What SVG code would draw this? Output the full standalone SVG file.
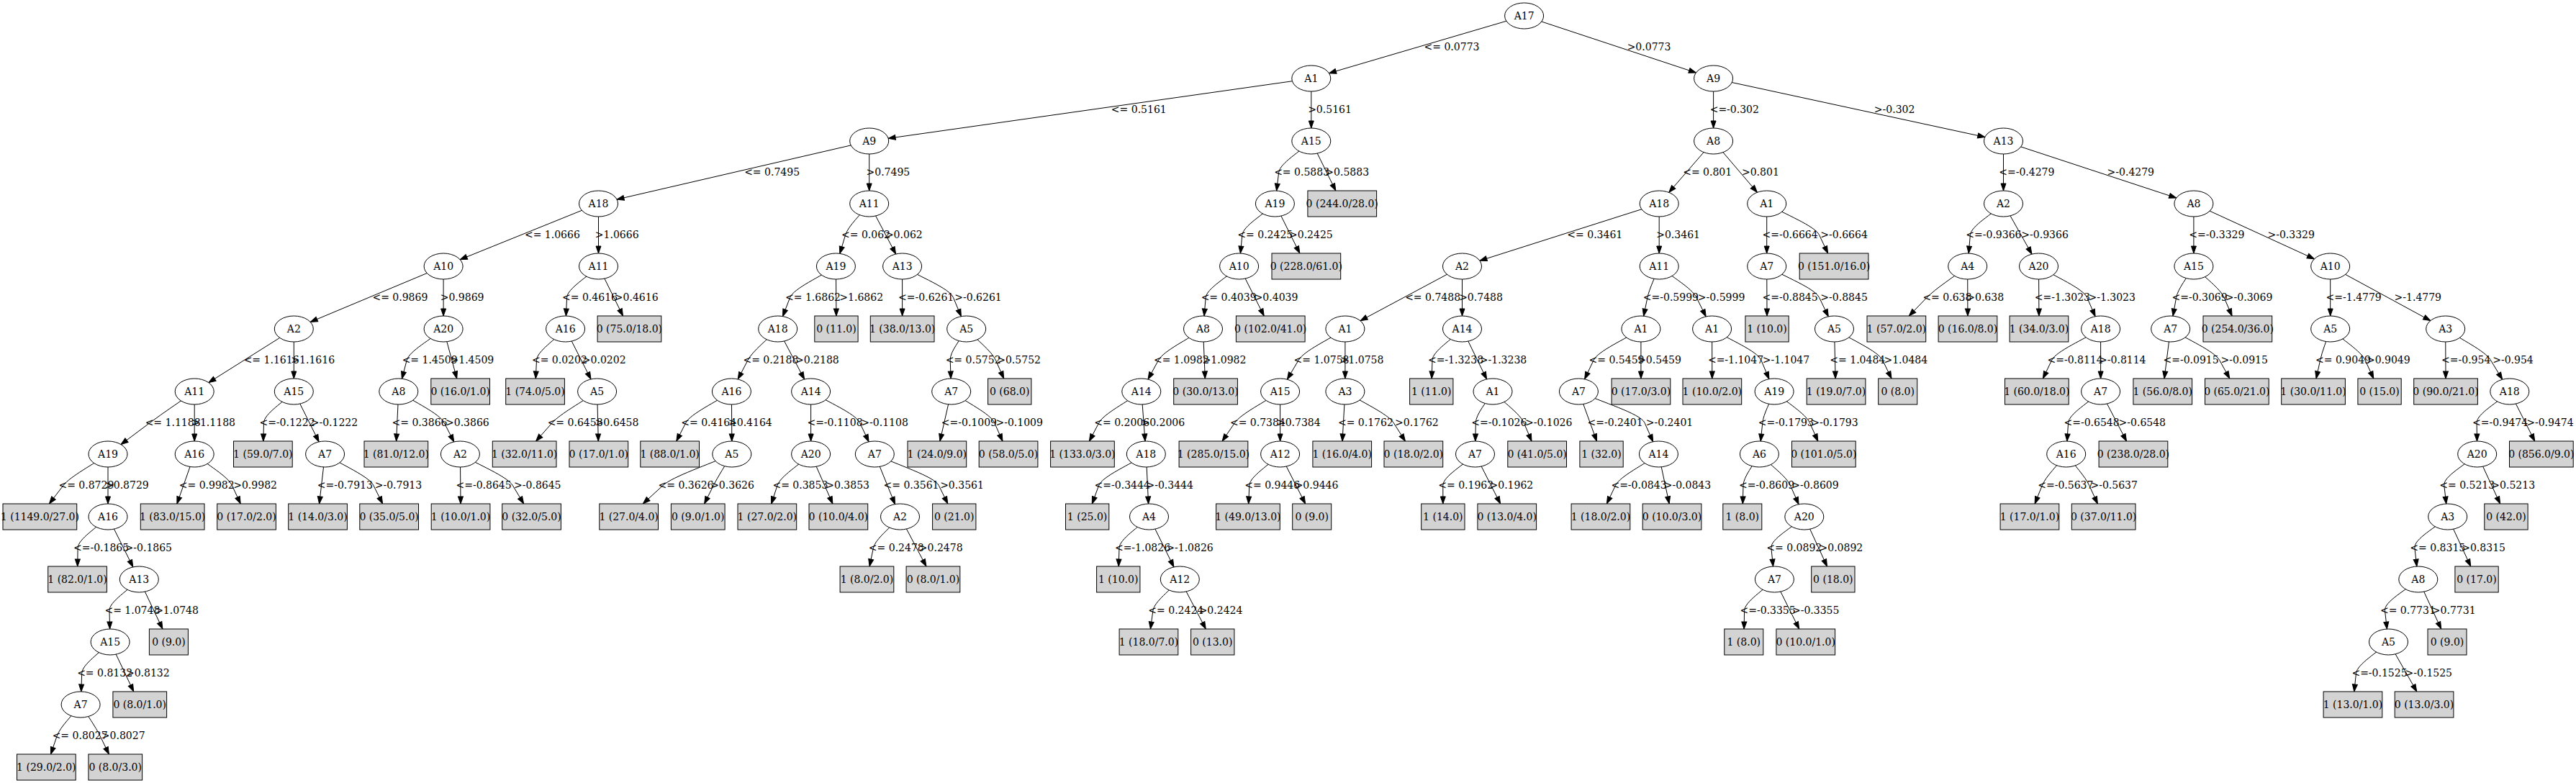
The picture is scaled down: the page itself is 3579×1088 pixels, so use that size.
<svg xmlns="http://www.w3.org/2000/svg" width="3579" height="1088" viewBox="0 0 3579 1088">
<defs>
<style>
text{font-family:"DejaVu Serif","Liberation Serif",serif;font-size:14px;text-anchor:middle;fill:#000}
.node ellipse{fill:#fff;stroke:#000;stroke-width:1}
.leaf rect{fill:#d3d3d3;stroke:#000;stroke-width:1}
.edges path{fill:none;stroke:#000;stroke-width:1;marker-end:url(#ah)}
</style>
<marker id="ah" markerUnits="userSpaceOnUse" markerWidth="10" markerHeight="7" refX="10" refY="3.5" orient="auto" overflow="visible"><path d="M0,0 L10,3.5 L0,7 Z" fill="#000" stroke="#000" stroke-width="1"/></marker>
</defs>
<rect x="0" y="0" width="3579" height="1088" fill="#fff"/>
<g id="connectors" class="edges">
<path d="M2117.6,22 L1846.5,101.7"/><text x="2017" y="70">&lt;= 0.0773</text>
<path d="M2117.6,22 L2356.4,101"/><text x="2291" y="70">&gt;0.0773</text>
<path d="M1821.8,109 L1234.1,192.3"/><text x="1582.3" y="157">&lt;= 0.5161</text>
<path d="M1821.8,109 L1821.8,178"/><text x="1847.5" y="157">&gt;0.5161</text>
<path d="M2380.6,109 L2380.6,178"/><text x="2409.8" y="157">&lt;=-0.302</text>
<path d="M2380.6,109 L2757.8,190.5"/><text x="2632.1" y="157">&gt;-0.302</text>
<path d="M1207.7,196 L857,277.1"/><text x="1072.6" y="244">&lt;= 0.7495</text>
<path d="M1207.7,196 L1207.7,265"/><text x="1233.9" y="244">&gt;0.7495</text>
<path d="M1821.8,196 C1806.8,210.5 1778.3,226.7 1776.7,239.5 L1773.6,265.1"/><text x="1808.6" y="244">&lt;= 0.5883</text>
<path d="M1821.8,196 L1855.8,265"/><text x="1871.7" y="244">&gt;0.5883</text>
<path d="M2380.6,196 L2318.7,267.4"/><text x="2372.2" y="244">&lt;= 0.801</text>
<path d="M2380.6,196 L2441.4,267.3"/><text x="2445.9" y="244">&gt;0.801</text>
<path d="M2783.5,196 L2783.5,265"/><text x="2815.8" y="244">&lt;=-0.4279</text>
<path d="M2783.5,196 L3023.7,275"/><text x="2960.3" y="244">&gt;-0.4279</text>
<path d="M831.5,283 L639.2,360.7"/><text x="767.4" y="331">&lt;= 1.0666</text>
<path d="M831.5,283 L831.5,352"/><text x="857.2" y="331">&gt;1.0666</text>
<path d="M1207.7,283 C1196.7,297.5 1178.5,313.6 1174.6,326.5 L1166.8,352.4"/><text x="1203" y="331">&lt;= 0.062</text>
<path d="M1207.7,283 L1244.6,353"/><text x="1255.8" y="331">&gt;0.062</text>
<path d="M1771.4,283 C1756.2,297.5 1727.2,313.8 1725.9,326.5 L1723.4,352"/><text x="1757.8" y="331">&lt;= 0.2425</text>
<path d="M1771.4,283 L1805.8,352"/><text x="1821.4" y="331">&gt;0.2425</text>
<path d="M2305.2,283 L2055.9,362.3"/><text x="2215.8" y="331">&lt;= 0.3461</text>
<path d="M2305.2,283 L2305.2,352"/><text x="2331.6" y="331">&gt;0.3461</text>
<path d="M2454.7,283 L2454.7,352"/><text x="2487.1" y="331">&lt;=-0.6664</text>
<path d="M2454.7,283 C2479,297.5 2521.6,313.8 2527.6,326.5 L2539.6,352"/><text x="2562.1" y="331">&gt;-0.6664</text>
<path d="M2783.5,283 C2768.1,297.5 2738.5,313.8 2737.4,326.5 L2735.2,352"/><text x="2769.9" y="331">&lt;=-0.9366</text>
<path d="M2783.5,283 L2823,353.2"/><text x="2841.1" y="331">&gt;-0.9366</text>
<path d="M3047.9,283 L3047.9,352"/><text x="3079.8" y="331">&lt;=-0.3329</text>
<path d="M3047.9,283 L3215.4,359.8"/><text x="3183.2" y="331">&gt;-0.3329</text>
<path d="M616.1,370 L431.2,447.4"/><text x="555.9" y="418">&lt;= 0.9869</text>
<path d="M616.1,370 L616.1,439"/><text x="642.1" y="418">&gt;0.9869</text>
<path d="M831.5,370 C816.9,384.5 788.2,400.8 787.6,413.5 L786.4,439"/><text x="819.5" y="418">&lt;= 0.4616</text>
<path d="M831.5,370 L865.5,439"/><text x="884.2" y="418">&gt;0.4616</text>
<path d="M1161.4,370 C1140.1,384.5 1102.7,400.5 1097.6,413.5 L1087.5,439.6"/><text x="1129.5" y="418">&lt;= 1.6862</text>
<path d="M1161.4,370 L1161.9,439"/><text x="1196.7" y="418">&gt;1.6862</text>
<path d="M1253.6,370 L1253.6,439"/><text x="1286.7" y="418">&lt;=-0.6261</text>
<path d="M1253.6,370 C1277.2,384.5 1319.1,400.4 1324.5,413.5 L1335.4,439.7"/><text x="1359" y="418">&gt;-0.6261</text>
<path d="M1721.6,370 C1706.1,384.5 1676.3,400.8 1675.2,413.5 L1673,439"/><text x="1707.1" y="418">&lt;= 0.4039</text>
<path d="M1721.6,370 L1756.2,439"/><text x="1773" y="418">&gt;0.4039</text>
<path d="M2031.5,370 L1890,445.7"/><text x="1990.6" y="418">&lt;= 0.7488</text>
<path d="M2031.5,370 L2031.5,439"/><text x="2057.5" y="418">&gt;0.7488</text>
<path d="M2305.2,370 C2299.8,384.5 2291.6,400.7 2288.9,413.5 L2283.6,439.2"/><text x="2321.4" y="418">&lt;=-0.5999</text>
<path d="M2305.2,370 C2322.5,384.5 2350.6,400.3 2357.1,413.5 L2370.2,439.9"/><text x="2391.6" y="418">&gt;-0.5999</text>
<path d="M2454.7,370 L2455,439"/><text x="2487.1" y="418">&lt;=-0.8845</text>
<path d="M2454.7,370 C2479,384.5 2521.3,400.3 2527.6,413.5 L2540.3,439.9"/><text x="2562.1" y="418">&gt;-0.8845</text>
<path d="M2733.7,370 C2714.8,384.5 2689.4,400.8 2677,413.5 L2652.3,439"/><text x="2705.4" y="418">&lt;= 0.638</text>
<path d="M2733.7,370 L2733.9,439"/><text x="2758.2" y="418">&gt;0.638</text>
<path d="M2832.5,370 L2832.9,439"/><text x="2865.4" y="418">&lt;=-1.3023</text>
<path d="M2832.5,370 C2854.9,384.5 2894,400.4 2899.7,413.5 L2911.1,439.7"/><text x="2934.2" y="418">&gt;-1.3023</text>
<path d="M3047.9,370 C3039.8,384.5 3025.9,400.7 3023.6,413.5 L3019,439.1"/><text x="3056.1" y="418">&lt;=-0.3069</text>
<path d="M3047.9,370 C3062,384.5 3084.6,400.8 3090.1,413.5 L3101.1,439"/><text x="3124.6" y="418">&gt;-0.3069</text>
<path d="M3237.7,370 L3237.7,439"/><text x="3270.2" y="418">&lt;=-1.4779</text>
<path d="M3237.7,370 L3376.8,445.6"/><text x="3359.3" y="418">&gt;-1.4779</text>
<path d="M408.3,457 L289.8,531.6"/><text x="377.1" y="505">&lt;= 1.1616</text>
<path d="M408.3,457 L408.3,526"/><text x="434.7" y="505">&gt;1.1616</text>
<path d="M616.1,457 C599.1,471.5 568.6,487.6 565.2,500.5 L558.4,526.3"/><text x="597.1" y="505">&lt;= 1.4509</text>
<path d="M616.1,457 L634.7,526"/><text x="655.9" y="505">&gt;1.4509</text>
<path d="M785.6,457 C772.2,471.5 746.1,487.8 745.5,500.5 L744.3,526"/><text x="777.4" y="505">&lt;= 0.0202</text>
<path d="M785.6,457 L821,526.9"/><text x="839.2" y="505">&gt;0.0202</text>
<path d="M1080.7,457 C1066.8,471.5 1045.9,487.3 1039,500.5 L1025.2,527"/><text x="1070.9" y="505">&lt;= 0.2188</text>
<path d="M1080.7,457 L1117.6,527"/><text x="1135.4" y="505">&gt;0.2188</text>
<path d="M1342.7,457 C1335.2,471.5 1319.8,487.8 1320.2,500.5 L1321.1,526"/><text x="1352.1" y="505">&lt;= 0.5752</text>
<path d="M1342.7,457 C1356.3,471.5 1377.8,487.8 1383.4,500.5 L1394.7,526"/><text x="1415.6" y="505">&gt;0.5752</text>
<path d="M1671.5,457 C1650.8,471.5 1616.8,487.2 1609.5,500.5 L1595,527.1"/><text x="1641.4" y="505">&lt;= 1.0982</text>
<path d="M1671.5,457 L1674.3,526"/><text x="1701" y="505">&gt;1.0982</text>
<path d="M1868.9,457 C1847.3,471.5 1811.9,487.1 1804.1,500.5 L1788.4,527.2"/><text x="1836" y="505">&lt;= 1.0758</text>
<path d="M1868.9,457 L1868.9,526"/><text x="1892" y="505">&gt;1.0758</text>
<path d="M2031.5,457 C2017.7,471.5 1990.4,487.8 1990,500.5 L1989.2,526"/><text x="2022.5" y="505">&lt;=-1.3238</text>
<path d="M2031.5,457 L2065.6,526.9"/><text x="2088.5" y="505">&gt;-1.3238</text>
<path d="M2279.9,457 C2258,471.5 2220.4,487.4 2214.1,500.5 L2201.6,526.8"/><text x="2246" y="505">&lt;= 0.5459</text>
<path d="M2279.9,457 L2279.9,526"/><text x="2305.5" y="505">&gt;0.5459</text>
<path d="M2378.6,457 L2378.8,526"/><text x="2411.5" y="505">&lt;=-1.1047</text>
<path d="M2378.6,457 C2401.4,471.5 2441.4,487.4 2446.9,500.5 L2457.9,526.7"/><text x="2481.4" y="505">&gt;-1.1047</text>
<path d="M2548.5,457 L2550.1,526"/><text x="2580.8" y="505">&lt;= 1.0484</text>
<path d="M2548.5,457 C2570.9,471.5 2609.4,487.8 2615.6,500.5 L2628,526"/><text x="2647.8" y="505">&gt;1.0484</text>
<path d="M2918.6,457 C2895.9,471.5 2856.7,487.8 2850.6,500.5 L2838.4,526"/><text x="2883.1" y="505">&lt;=-0.8114</text>
<path d="M2918.6,457 L2918.6,526"/><text x="2948.8" y="505">&gt;-0.8114</text>
<path d="M3015.7,457 L3007,526"/><text x="3044.1" y="505">&lt;=-0.0915</text>
<path d="M3015.7,457 C3038.4,471.5 3076.7,487.8 3083.7,500.5 L3097.8,526"/><text x="3118.2" y="505">&gt;-0.0915</text>
<path d="M3237.7,457 C3233,471.5 3226.4,487.8 3223.6,500.5 L3218,526"/><text x="3255.5" y="505">&lt;= 0.9049</text>
<path d="M3237.7,457 C3253.8,471.5 3280.3,487.8 3286.1,500.5 L3297.8,526"/><text x="3318.3" y="505">&gt;0.9049</text>
<path d="M3397.7,457 L3398,526"/><text x="3426.2" y="505">&lt;=-0.954</text>
<path d="M3397.7,457 C3418.6,471.5 3452.4,487.1 3460.5,500.5 L3476.7,527.3"/><text x="3491.5" y="505">&gt;-0.954</text>
<path d="M270.2,544 C249.5,558.5 228.3,572.5 208.2,587.5 L168,617.6"/><text x="240.1" y="592">&lt;= 1.1188</text>
<path d="M270.2,544 L270.2,613"/><text x="296.6" y="592">&gt;1.1188</text>
<path d="M408.3,544 C394.4,558.5 366.9,574.8 366.5,587.5 L365.8,613"/><text x="399" y="592">&lt;=-0.1222</text>
<path d="M408.3,544 L443.1,613.9"/><text x="464.4" y="592">&gt;-0.1222</text>
<path d="M553.8,544 L550.6,613"/><text x="583" y="592">&lt;= 0.3866</text>
<path d="M553.8,544 C574.9,558.5 610.5,574.3 617.2,587.5 L630.7,614"/><text x="649.4" y="592">&gt;0.3866</text>
<path d="M829.6,544 C808.8,558.5 778.5,574.8 767.2,587.5 L744.6,613"/><text x="799.1" y="592">&lt;= 0.6458</text>
<path d="M829.6,544 L831.3,613"/><text x="857" y="592">&gt;0.6458</text>
<path d="M1016.4,544 C995.2,558.5 959.3,574.8 952.8,587.5 L939.8,613"/><text x="984.7" y="592">&lt;= 0.4164</text>
<path d="M1016.4,544 L1016.8,613"/><text x="1042.4" y="592">&gt;0.4164</text>
<path d="M1126.6,544 L1126.6,613"/><text x="1160" y="592">&lt;=-0.1108</text>
<path d="M1126.6,544 C1149.3,558.5 1188.4,574.4 1194.6,587.5 L1207.1,613.8"/><text x="1229.1" y="592">&gt;-0.1108</text>
<path d="M1321.7,544 L1305.9,613"/><text x="1346.4" y="592">&lt;=-0.1009</text>
<path d="M1321.7,544 C1341.7,558.5 1376.1,574.8 1381.7,587.5 L1393,613"/><text x="1416.2" y="592">&gt;-0.1009</text>
<path d="M1585.8,544 C1566.1,558.5 1533.5,574.8 1526.8,587.5 L1513.4,613"/><text x="1558.7" y="592">&lt;= 0.2006</text>
<path d="M1585.8,544 L1591,613"/><text x="1615.8" y="592">&gt;0.2006</text>
<path d="M1778.6,544 C1757.6,558.5 1724.2,574.8 1715.5,587.5 L1698.1,613"/><text x="1747.4" y="592">&lt;= 0.7384</text>
<path d="M1778.6,544 L1778.6,613"/><text x="1804.3" y="592">&gt;0.7384</text>
<path d="M1868.9,544 L1865,613"/><text x="1897.4" y="592">&lt;= 0.1762</text>
<path d="M1868.9,544 C1891.3,558.5 1928.1,574.8 1936.2,587.5 L1952.4,613"/><text x="1968.4" y="592">&gt;0.1762</text>
<path d="M2074,544 C2066.1,558.5 2050.6,574.8 2050.3,587.5 L2049.8,613"/><text x="2082.8" y="592">&lt;=-0.1026</text>
<path d="M2074,544 C2088.4,558.5 2111.8,574.8 2117.2,587.5 L2128,613"/><text x="2151.7" y="592">&gt;-0.1026</text>
<path d="M2193.4,544 L2218.5,613"/><text x="2244.1" y="592">&lt;=-0.2401</text>
<path d="M2193.4,544 C2223.9,558.5 2279.2,574.4 2285,587.5 L2296.7,613.8"/><text x="2319.5" y="592">&gt;-0.2401</text>
<path d="M2465.1,544 C2459.7,558.5 2450.1,574.8 2448.8,587.5 L2446.2,613"/><text x="2481.3" y="592">&lt;=-0.1793</text>
<path d="M2465.1,544 C2481.5,558.5 2508.7,574.8 2514.4,587.5 L2525.8,613"/><text x="2548.9" y="592">&gt;-0.1793</text>
<path d="M2918.6,544 C2903.6,558.5 2874.5,574.8 2873.6,587.5 L2871.9,613"/><text x="2906.1" y="592">&lt;=-0.6548</text>
<path d="M2918.6,544 L2954.5,613"/><text x="2976.3" y="592">&gt;-0.6548</text>
<path d="M3486.8,544 C3471.6,558.5 3440.9,574.8 3441.1,587.5 L3441.5,613"/><text x="3473.6" y="592">&lt;=-0.9474</text>
<path d="M3486.8,544 L3521.7,613"/><text x="3542.9" y="592">&gt;-0.9474</text>
<path d="M150,631 C129.3,645.5 97.8,661.8 88,674.5 L68.4,700"/><text x="119.9" y="679">&lt;= 0.8729</text>
<path d="M150,631 L150,700"/><text x="176.4" y="679">&gt;0.8729</text>
<path d="M270.2,631 L245.9,700"/><text x="287.2" y="679">&lt;= 0.9982</text>
<path d="M270.2,631 C287.6,645.5 316.5,661.8 322.4,674.5 L334.2,700"/><text x="354.6" y="679">&gt;0.9982</text>
<path d="M451.6,631 L443.6,700"/><text x="479.3" y="679">&lt;=-0.7913</text>
<path d="M451.6,631 C474,645.5 512.6,661.8 518.9,674.5 L531.6,700"/><text x="553.4" y="679">&gt;-0.7913</text>
<path d="M639.4,631 L640,700"/><text x="672.1" y="679">&lt;=-0.8645</text>
<path d="M639.4,631 C663.7,645.5 704.6,661.8 712.3,674.5 L727.7,700"/><text x="746.8" y="679">&gt;-0.8645</text>
<path d="M1016.8,631 C984.9,645.5 935,661.8 921.1,674.5 L893.3,700"/><text x="953" y="679">&lt;= 0.3626</text>
<path d="M1016.8,631 C1008.3,645.5 997.7,661.8 991.3,674.5 L978.6,700"/><text x="1017.5" y="679">&gt;0.3626</text>
<path d="M1126.6,631 C1111.1,645.5 1084.2,661.8 1080,674.5 L1071.7,700"/><text x="1111.9" y="679">&lt;= 0.3853</text>
<path d="M1126.6,631 L1156.9,700"/><text x="1177.6" y="679">&gt;0.3853</text>
<path d="M1215.3,631 L1243.5,700.6"/><text x="1266" y="679">&lt;= 0.3561</text>
<path d="M1215.3,631 C1245,645.5 1298.1,661.8 1304.3,674.5 L1316.8,700"/><text x="1336.5" y="679">&gt;0.3561</text>
<path d="M1592.3,631 C1570.4,645.5 1531.4,661.8 1526.7,674.5 L1517.3,700"/><text x="1559.2" y="679">&lt;=-0.3444</text>
<path d="M1592.3,631 L1595.6,700"/><text x="1625.2" y="679">&gt;-0.3444</text>
<path d="M1778.6,631 C1764.3,645.5 1736.4,661.8 1735.8,674.5 L1734.7,700"/><text x="1767.7" y="679">&lt;= 0.9446</text>
<path d="M1778.6,631 L1813.6,700"/><text x="1829" y="679">&gt;0.9446</text>
<path d="M2049.5,631 C2034.6,645.5 2004.8,661.8 2004.8,674.5 L2004.8,700"/><text x="2036.7" y="679">&lt;= 0.1962</text>
<path d="M2049.5,631 L2084.6,700"/><text x="2099.9" y="679">&gt;0.1962</text>
<path d="M2304.4,631 C2284.4,645.5 2250.6,661.8 2244.5,674.5 L2232.4,700"/><text x="2277" y="679">&lt;=-0.0843</text>
<path d="M2304.4,631 L2319.2,700"/><text x="2344.4" y="679">&gt;-0.0843</text>
<path d="M2444.4,631 C2436.9,645.5 2422.4,661.8 2422,674.5 L2421.3,700"/><text x="2454.5" y="679">&lt;=-0.8609</text>
<path d="M2444.4,631 C2458.7,645.5 2481.6,661.4 2487.4,674.5 L2499.1,700.8"/><text x="2521.9" y="679">&gt;-0.8609</text>
<path d="M2870.7,631 C2859.6,645.5 2842.4,661.8 2837.3,674.5 L2827.1,700"/><text x="2869.8" y="679">&lt;=-0.5637</text>
<path d="M2870.7,631 C2881.4,645.5 2896.9,661.8 2902.7,674.5 L2914.4,700"/><text x="2937.2" y="679">&gt;-0.5637</text>
<path d="M3441.7,631 C3426.4,645.5 3394.4,661.7 3395.8,674.5 L3398.7,700.1"/><text x="3427.7" y="679">&lt;= 0.5213</text>
<path d="M3441.7,631 L3473.6,700"/><text x="3491.7" y="679">&gt;0.5213</text>
<path d="M150,718 C136,732.5 108.3,748.8 108.1,761.5 L107.7,787"/><text x="140.6" y="766">&lt;=-0.1865</text>
<path d="M150,718 L184.8,787.9"/><text x="206.3" y="766">&gt;-0.1865</text>
<path d="M1250.5,718 C1238.1,732.5 1216.1,748.8 1213.4,761.5 L1208.1,787"/><text x="1245.3" y="766">&lt;= 0.2478</text>
<path d="M1250.5,718 L1286.9,787"/><text x="1307.2" y="766">&gt;0.2478</text>
<path d="M1596.5,718 C1582.7,732.5 1555.4,748.8 1555,761.5 L1554.2,787"/><text x="1587.5" y="766">&lt;=-1.0826</text>
<path d="M1596.5,718 L1630.9,787.9"/><text x="1653" y="766">&gt;-1.0826</text>
<path d="M2506.8,718 C2491.5,732.5 2459.6,748.7 2460.9,761.5 L2463.5,787.1"/><text x="2492.8" y="766">&lt;= 0.0892</text>
<path d="M2506.8,718 L2538.5,787"/><text x="2557.9" y="766">&gt;0.0892</text>
<path d="M3400.7,718 C3385.4,732.5 3353.5,748.7 3354.9,761.5 L3357.8,787.1"/><text x="3386.8" y="766">&lt;= 0.8315</text>
<path d="M3400.7,718 L3432.7,787"/><text x="3450.6" y="766">&gt;0.8315</text>
<path d="M193.3,805 C179.5,819.5 151.7,835.8 152,848.5 L152.6,874"/><text x="183.9" y="853">&lt;= 1.0748</text>
<path d="M193.3,805 L225.9,874"/><text x="245.5" y="853">&gt;1.0748</text>
<path d="M1639.3,805 C1626.8,819.5 1603.7,835.8 1601.9,848.5 L1598.4,874"/><text x="1633.8" y="853">&lt;= 0.2424</text>
<path d="M1639.3,805 L1675.3,874"/><text x="1696" y="853">&gt;0.2424</text>
<path d="M2465.4,805 C2451.5,819.5 2423.9,835.8 2423.6,848.5 L2423.1,874"/><text x="2456.1" y="853">&lt;=-0.3355</text>
<path d="M2465.4,805 L2499.7,874"/><text x="2522.7" y="853">&gt;-0.3355</text>
<path d="M3359.8,805 C3344.4,819.5 3312.1,835.7 3313.5,848.5 L3316.4,874.1"/><text x="3345.4" y="853">&lt;= 0.7731</text>
<path d="M3359.8,805 L3391.7,874"/><text x="3409.2" y="853">&gt;0.7731</text>
<path d="M153.1,892 C140,906.5 114.2,922.8 113.7,935.5 L112.8,961"/><text x="145.6" y="940">&lt;= 0.8132</text>
<path d="M153.1,892 L185.7,961"/><text x="205.3" y="940">&gt;0.8132</text>
<path d="M3318.5,892 C3303.5,906.5 3274.9,922.8 3273.5,935.5 L3270.8,961"/><text x="3306" y="940">&lt;=-0.1525</text>
<path d="M3318.5,892 L3357.8,961"/><text x="3374.3" y="940">&gt;-0.1525</text>
<path d="M112.1,979 C101.1,993.5 83.6,1009.8 79.2,1022.5 L70.5,1048"/><text x="111.1" y="1027">&lt;= 0.8027</text>
<path d="M112.1,979 C121.1,993.5 132.8,1009.8 139,1022.5 L151.4,1048"/><text x="171.2" y="1027">&gt;0.8027</text>
</g>
<g id="nodes">
<g id="n0" class="node"><ellipse cx="2117.6" cy="22" rx="27" ry="18"/><text x="2117.6" y="26.5">A17</text></g>
<g id="n1" class="node"><ellipse cx="1821.8" cy="109" rx="27" ry="18"/><text x="1821.8" y="113.5">A1</text></g>
<g id="n2" class="node"><ellipse cx="2380.6" cy="109" rx="27" ry="18"/><text x="2380.6" y="113.5">A9</text></g>
<g id="n3" class="node"><ellipse cx="1207.7" cy="196" rx="27" ry="18"/><text x="1207.7" y="200.5">A9</text></g>
<g id="n4" class="node"><ellipse cx="1821.8" cy="196" rx="27" ry="18"/><text x="1821.8" y="200.5">A15</text></g>
<g id="n5" class="node"><ellipse cx="2380.6" cy="196" rx="27" ry="18"/><text x="2380.6" y="200.5">A8</text></g>
<g id="n6" class="node"><ellipse cx="2783.5" cy="196" rx="27" ry="18"/><text x="2783.5" y="200.5">A13</text></g>
<g id="n7" class="node"><ellipse cx="831.5" cy="283" rx="27" ry="18"/><text x="831.5" y="287.5">A18</text></g>
<g id="n8" class="node"><ellipse cx="1207.7" cy="283" rx="27" ry="18"/><text x="1207.7" y="287.5">A11</text></g>
<g id="n9" class="node"><ellipse cx="1771.4" cy="283" rx="27" ry="18"/><text x="1771.4" y="287.5">A19</text></g>
<g id="n10" class="leaf"><rect x="1816.9" y="265" width="95.7" height="36"/><text x="1864.7" y="287.5">0 (244.0/28.0)</text></g>
<g id="n11" class="node"><ellipse cx="2305.2" cy="283" rx="27" ry="18"/><text x="2305.2" y="287.5">A18</text></g>
<g id="n12" class="node"><ellipse cx="2454.7" cy="283" rx="27" ry="18"/><text x="2454.7" y="287.5">A1</text></g>
<g id="n13" class="node"><ellipse cx="2783.5" cy="283" rx="27" ry="18"/><text x="2783.5" y="287.5">A2</text></g>
<g id="n14" class="node"><ellipse cx="3047.9" cy="283" rx="27" ry="18"/><text x="3047.9" y="287.5">A8</text></g>
<g id="n15" class="node"><ellipse cx="616.1" cy="370" rx="27" ry="18"/><text x="616.1" y="374.5">A10</text></g>
<g id="n16" class="node"><ellipse cx="831.5" cy="370" rx="27" ry="18"/><text x="831.5" y="374.5">A11</text></g>
<g id="n17" class="node"><ellipse cx="1161.4" cy="370" rx="27" ry="18"/><text x="1161.4" y="374.5">A19</text></g>
<g id="n18" class="node"><ellipse cx="1253.6" cy="370" rx="27" ry="18"/><text x="1253.6" y="374.5">A13</text></g>
<g id="n19" class="node"><ellipse cx="1721.6" cy="370" rx="27" ry="18"/><text x="1721.6" y="374.5">A10</text></g>
<g id="n20" class="leaf"><rect x="1767" y="352" width="95.7" height="36"/><text x="1814.8" y="374.5">0 (228.0/61.0)</text></g>
<g id="n21" class="node"><ellipse cx="2031.5" cy="370" rx="27" ry="18"/><text x="2031.5" y="374.5">A2</text></g>
<g id="n22" class="node"><ellipse cx="2305.2" cy="370" rx="27" ry="18"/><text x="2305.2" y="374.5">A11</text></g>
<g id="n23" class="node"><ellipse cx="2454.7" cy="370" rx="27" ry="18"/><text x="2454.7" y="374.5">A7</text></g>
<g id="n24" class="leaf"><rect x="2500.2" y="352" width="95.7" height="36"/><text x="2548" y="374.5">0 (151.0/16.0)</text></g>
<g id="n25" class="node"><ellipse cx="2733.7" cy="370" rx="27" ry="18"/><text x="2733.7" y="374.5">A4</text></g>
<g id="n26" class="node"><ellipse cx="2832.5" cy="370" rx="27" ry="18"/><text x="2832.5" y="374.5">A20</text></g>
<g id="n27" class="node"><ellipse cx="3047.9" cy="370" rx="27" ry="18"/><text x="3047.9" y="374.5">A15</text></g>
<g id="n28" class="node"><ellipse cx="3237.7" cy="370" rx="27" ry="18"/><text x="3237.7" y="374.5">A10</text></g>
<g id="n29" class="node"><ellipse cx="408.3" cy="457" rx="27" ry="18"/><text x="408.3" y="461.5">A2</text></g>
<g id="n30" class="node"><ellipse cx="616.1" cy="457" rx="27" ry="18"/><text x="616.1" y="461.5">A20</text></g>
<g id="n31" class="node"><ellipse cx="785.6" cy="457" rx="27" ry="18"/><text x="785.6" y="461.5">A16</text></g>
<g id="n32" class="leaf"><rect x="830.1" y="439" width="88.7" height="36"/><text x="874.4" y="461.5">0 (75.0/18.0)</text></g>
<g id="n33" class="node"><ellipse cx="1080.7" cy="457" rx="27" ry="18"/><text x="1080.7" y="461.5">A18</text></g>
<g id="n34" class="leaf"><rect x="1131.8" y="439" width="60.3" height="36"/><text x="1161.9" y="461.5">0 (11.0)</text></g>
<g id="n35" class="leaf"><rect x="1209.3" y="439" width="88.7" height="36"/><text x="1253.6" y="461.5">1 (38.0/13.0)</text></g>
<g id="n36" class="node"><ellipse cx="1342.7" cy="457" rx="27" ry="18"/><text x="1342.7" y="461.5">A5</text></g>
<g id="n37" class="node"><ellipse cx="1671.5" cy="457" rx="27" ry="18"/><text x="1671.5" y="461.5">A8</text></g>
<g id="n38" class="leaf"><rect x="1717.4" y="439" width="95.7" height="36"/><text x="1765.2" y="461.5">0 (102.0/41.0)</text></g>
<g id="n39" class="node"><ellipse cx="1868.9" cy="457" rx="27" ry="18"/><text x="1868.9" y="461.5">A1</text></g>
<g id="n40" class="node"><ellipse cx="2031.5" cy="457" rx="27" ry="18"/><text x="2031.5" y="461.5">A14</text></g>
<g id="n41" class="node"><ellipse cx="2279.9" cy="457" rx="27" ry="18"/><text x="2279.9" y="461.5">A1</text></g>
<g id="n42" class="node"><ellipse cx="2378.6" cy="457" rx="27" ry="18"/><text x="2378.6" y="461.5">A1</text></g>
<g id="n43" class="leaf"><rect x="2424.9" y="439" width="60.3" height="36"/><text x="2455" y="461.5">1 (10.0)</text></g>
<g id="n44" class="node"><ellipse cx="2548.5" cy="457" rx="27" ry="18"/><text x="2548.5" y="461.5">A5</text></g>
<g id="n45" class="leaf"><rect x="2594" y="439" width="81.7" height="36"/><text x="2634.8" y="461.5">1 (57.0/2.0)</text></g>
<g id="n46" class="leaf"><rect x="2693.1" y="439" width="81.7" height="36"/><text x="2733.9" y="461.5">0 (16.0/8.0)</text></g>
<g id="n47" class="leaf"><rect x="2792.1" y="439" width="81.7" height="36"/><text x="2832.9" y="461.5">1 (34.0/3.0)</text></g>
<g id="n48" class="node"><ellipse cx="2918.6" cy="457" rx="27" ry="18"/><text x="2918.6" y="461.5">A18</text></g>
<g id="n49" class="node"><ellipse cx="3015.7" cy="457" rx="27" ry="18"/><text x="3015.7" y="461.5">A7</text></g>
<g id="n50" class="leaf"><rect x="3061" y="439" width="95.7" height="36"/><text x="3108.8" y="461.5">0 (254.0/36.0)</text></g>
<g id="n51" class="node"><ellipse cx="3237.7" cy="457" rx="27" ry="18"/><text x="3237.7" y="461.5">A5</text></g>
<g id="n52" class="node"><ellipse cx="3397.7" cy="457" rx="27" ry="18"/><text x="3397.7" y="461.5">A3</text></g>
<g id="n53" class="node"><ellipse cx="270.2" cy="544" rx="27" ry="18"/><text x="270.2" y="548.5">A11</text></g>
<g id="n54" class="node"><ellipse cx="408.3" cy="544" rx="27" ry="18"/><text x="408.3" y="548.5">A15</text></g>
<g id="n55" class="node"><ellipse cx="553.8" cy="544" rx="27" ry="18"/><text x="553.8" y="548.5">A8</text></g>
<g id="n56" class="leaf"><rect x="598.8" y="526" width="81.7" height="36"/><text x="639.6" y="548.5">0 (16.0/1.0)</text></g>
<g id="n57" class="leaf"><rect x="702.7" y="526" width="81.7" height="36"/><text x="743.5" y="548.5">1 (74.0/5.0)</text></g>
<g id="n58" class="node"><ellipse cx="829.6" cy="544" rx="27" ry="18"/><text x="829.6" y="548.5">A5</text></g>
<g id="n59" class="node"><ellipse cx="1016.4" cy="544" rx="27" ry="18"/><text x="1016.4" y="548.5">A16</text></g>
<g id="n60" class="node"><ellipse cx="1126.6" cy="544" rx="27" ry="18"/><text x="1126.6" y="548.5">A14</text></g>
<g id="n61" class="node"><ellipse cx="1321.7" cy="544" rx="27" ry="18"/><text x="1321.7" y="548.5">A7</text></g>
<g id="n62" class="leaf"><rect x="1372.6" y="526" width="60.3" height="36"/><text x="1402.7" y="548.5">0 (68.0)</text></g>
<g id="n63" class="node"><ellipse cx="1585.8" cy="544" rx="27" ry="18"/><text x="1585.8" y="548.5">A14</text></g>
<g id="n64" class="leaf"><rect x="1630.7" y="526" width="88.7" height="36"/><text x="1675" y="548.5">0 (30.0/13.0)</text></g>
<g id="n65" class="node"><ellipse cx="1778.6" cy="544" rx="27" ry="18"/><text x="1778.6" y="548.5">A15</text></g>
<g id="n66" class="node"><ellipse cx="1868.9" cy="544" rx="27" ry="18"/><text x="1868.9" y="548.5">A3</text></g>
<g id="n67" class="leaf"><rect x="1958.6" y="526" width="60.3" height="36"/><text x="1988.7" y="548.5">1 (11.0)</text></g>
<g id="n68" class="node"><ellipse cx="2074" cy="544" rx="27" ry="18"/><text x="2074" y="548.5">A1</text></g>
<g id="n69" class="node"><ellipse cx="2193.4" cy="544" rx="27" ry="18"/><text x="2193.4" y="548.5">A7</text></g>
<g id="n70" class="leaf"><rect x="2239.1" y="526" width="81.7" height="36"/><text x="2279.9" y="548.5">0 (17.0/3.0)</text></g>
<g id="n71" class="leaf"><rect x="2338" y="526" width="81.7" height="36"/><text x="2378.8" y="548.5">1 (10.0/2.0)</text></g>
<g id="n72" class="node"><ellipse cx="2465.1" cy="544" rx="27" ry="18"/><text x="2465.1" y="548.5">A19</text></g>
<g id="n73" class="leaf"><rect x="2510.2" y="526" width="81.7" height="36"/><text x="2551" y="548.5">1 (19.0/7.0)</text></g>
<g id="n74" class="leaf"><rect x="2609.7" y="526" width="54" height="36"/><text x="2636.7" y="548.5">0 (8.0)</text></g>
<g id="n75" class="leaf"><rect x="2785.5" y="526" width="88.7" height="36"/><text x="2829.8" y="548.5">1 (60.0/18.0)</text></g>
<g id="n76" class="node"><ellipse cx="2918.6" cy="544" rx="27" ry="18"/><text x="2918.6" y="548.5">A7</text></g>
<g id="n77" class="leaf"><rect x="2963.9" y="526" width="81.7" height="36"/><text x="3004.7" y="548.5">1 (56.0/8.0)</text></g>
<g id="n78" class="leaf"><rect x="3063.5" y="526" width="88.7" height="36"/><text x="3107.8" y="548.5">0 (65.0/21.0)</text></g>
<g id="n79" class="leaf"><rect x="3169.7" y="526" width="88.7" height="36"/><text x="3214" y="548.5">1 (30.0/11.0)</text></g>
<g id="n80" class="leaf"><rect x="3275.9" y="526" width="60.3" height="36"/><text x="3306" y="548.5">0 (15.0)</text></g>
<g id="n81" class="leaf"><rect x="3353.7" y="526" width="88.7" height="36"/><text x="3398" y="548.5">0 (90.0/21.0)</text></g>
<g id="n82" class="node"><ellipse cx="3486.8" cy="544" rx="27" ry="18"/><text x="3486.8" y="548.5">A18</text></g>
<g id="n83" class="node"><ellipse cx="150" cy="631" rx="27" ry="18"/><text x="150" y="635.5">A19</text></g>
<g id="n84" class="node"><ellipse cx="270.2" cy="631" rx="27" ry="18"/><text x="270.2" y="635.5">A16</text></g>
<g id="n85" class="leaf"><rect x="324.5" y="613" width="81.7" height="36"/><text x="365.3" y="635.5">1 (59.0/7.0)</text></g>
<g id="n86" class="node"><ellipse cx="451.6" cy="631" rx="27" ry="18"/><text x="451.6" y="635.5">A7</text></g>
<g id="n87" class="leaf"><rect x="506" y="613" width="88.7" height="36"/><text x="550.3" y="635.5">1 (81.0/12.0)</text></g>
<g id="n88" class="node"><ellipse cx="639.4" cy="631" rx="27" ry="18"/><text x="639.4" y="635.5">A2</text></g>
<g id="n89" class="leaf"><rect x="684.3" y="613" width="88.7" height="36"/><text x="728.6" y="635.5">1 (32.0/11.0)</text></g>
<g id="n90" class="leaf"><rect x="791" y="613" width="81.7" height="36"/><text x="831.8" y="635.5">0 (17.0/1.0)</text></g>
<g id="n91" class="leaf"><rect x="889.8" y="613" width="81.7" height="36"/><text x="930.6" y="635.5">1 (88.0/1.0)</text></g>
<g id="n92" class="node"><ellipse cx="1016.8" cy="631" rx="27" ry="18"/><text x="1016.8" y="635.5">A5</text></g>
<g id="n93" class="node"><ellipse cx="1126.6" cy="631" rx="27" ry="18"/><text x="1126.6" y="635.5">A20</text></g>
<g id="n94" class="node"><ellipse cx="1215.3" cy="631" rx="27" ry="18"/><text x="1215.3" y="635.5">A7</text></g>
<g id="n95" class="leaf"><rect x="1261" y="613" width="81.7" height="36"/><text x="1301.8" y="635.5">1 (24.0/9.0)</text></g>
<g id="n96" class="leaf"><rect x="1360.2" y="613" width="81.7" height="36"/><text x="1401" y="635.5">0 (58.0/5.0)</text></g>
<g id="n97" class="leaf"><rect x="1459.6" y="613" width="88.7" height="36"/><text x="1503.9" y="635.5">1 (133.0/3.0)</text></g>
<g id="n98" class="node"><ellipse cx="1592.3" cy="631" rx="27" ry="18"/><text x="1592.3" y="635.5">A18</text></g>
<g id="n99" class="leaf"><rect x="1638.1" y="613" width="95.7" height="36"/><text x="1685.9" y="635.5">1 (285.0/15.0)</text></g>
<g id="n100" class="node"><ellipse cx="1778.6" cy="631" rx="27" ry="18"/><text x="1778.6" y="635.5">A12</text></g>
<g id="n101" class="leaf"><rect x="1823.9" y="613" width="81.7" height="36"/><text x="1864.7" y="635.5">1 (16.0/4.0)</text></g>
<g id="n102" class="leaf"><rect x="1923" y="613" width="81.7" height="36"/><text x="1963.8" y="635.5">0 (18.0/2.0)</text></g>
<g id="n103" class="node"><ellipse cx="2049.5" cy="631" rx="27" ry="18"/><text x="2049.5" y="635.5">A7</text></g>
<g id="n104" class="leaf"><rect x="2094.8" y="613" width="81.7" height="36"/><text x="2135.6" y="635.5">0 (41.0/5.0)</text></g>
<g id="n105" class="leaf"><rect x="2194.9" y="613" width="60.3" height="36"/><text x="2225" y="635.5">1 (32.0)</text></g>
<g id="n106" class="node"><ellipse cx="2304.4" cy="631" rx="27" ry="18"/><text x="2304.4" y="635.5">A14</text></g>
<g id="n107" class="node"><ellipse cx="2444.4" cy="631" rx="27" ry="18"/><text x="2444.4" y="635.5">A6</text></g>
<g id="n108" class="leaf"><rect x="2489.5" y="613" width="88.7" height="36"/><text x="2533.8" y="635.5">0 (101.0/5.0)</text></g>
<g id="n109" class="node"><ellipse cx="2870.7" cy="631" rx="27" ry="18"/><text x="2870.7" y="635.5">A16</text></g>
<g id="n110" class="leaf"><rect x="2916.1" y="613" width="95.7" height="36"/><text x="2963.9" y="635.5">0 (238.0/28.0)</text></g>
<g id="n111" class="node"><ellipse cx="3441.7" cy="631" rx="27" ry="18"/><text x="3441.7" y="635.5">A20</text></g>
<g id="n112" class="leaf"><rect x="3486.5" y="613" width="88.7" height="36"/><text x="3530.8" y="635.5">0 (856.0/9.0)</text></g>
<g id="n113" class="leaf"><rect x="4" y="700" width="102.7" height="36"/><text x="55.4" y="722.5">1 (1149.0/27.0)</text></g>
<g id="n114" class="node"><ellipse cx="150" cy="718" rx="27" ry="18"/><text x="150" y="722.5">A16</text></g>
<g id="n115" class="leaf"><rect x="195.3" y="700" width="88.7" height="36"/><text x="239.6" y="722.5">1 (83.0/15.0)</text></g>
<g id="n116" class="leaf"><rect x="301.7" y="700" width="81.7" height="36"/><text x="342.5" y="722.5">0 (17.0/2.0)</text></g>
<g id="n117" class="leaf"><rect x="400.7" y="700" width="81.7" height="36"/><text x="441.5" y="722.5">1 (14.0/3.0)</text></g>
<g id="n118" class="leaf"><rect x="499.8" y="700" width="81.7" height="36"/><text x="540.6" y="722.5">0 (35.0/5.0)</text></g>
<g id="n119" class="leaf"><rect x="599.2" y="700" width="81.7" height="36"/><text x="640" y="722.5">1 (10.0/1.0)</text></g>
<g id="n120" class="leaf"><rect x="697.7" y="700" width="81.7" height="36"/><text x="738.5" y="722.5">0 (32.0/5.0)</text></g>
<g id="n121" class="leaf"><rect x="832.8" y="700" width="81.7" height="36"/><text x="873.6" y="722.5">1 (27.0/4.0)</text></g>
<g id="n122" class="leaf"><rect x="932.4" y="700" width="74.7" height="36"/><text x="969.7" y="722.5">0 (9.0/1.0)</text></g>
<g id="n123" class="leaf"><rect x="1025" y="700" width="81.7" height="36"/><text x="1065.8" y="722.5">1 (27.0/2.0)</text></g>
<g id="n124" class="leaf"><rect x="1124" y="700" width="81.7" height="36"/><text x="1164.8" y="722.5">0 (10.0/4.0)</text></g>
<g id="n125" class="node"><ellipse cx="1250.5" cy="718" rx="27" ry="18"/><text x="1250.5" y="722.5">A2</text></g>
<g id="n126" class="leaf"><rect x="1295.6" y="700" width="60.3" height="36"/><text x="1325.7" y="722.5">0 (21.0)</text></g>
<g id="n127" class="leaf"><rect x="1480.5" y="700" width="60.3" height="36"/><text x="1510.6" y="722.5">1 (25.0)</text></g>
<g id="n128" class="node"><ellipse cx="1596.5" cy="718" rx="27" ry="18"/><text x="1596.5" y="722.5">A4</text></g>
<g id="n129" class="leaf"><rect x="1689.6" y="700" width="88.7" height="36"/><text x="1733.9" y="722.5">1 (49.0/13.0)</text></g>
<g id="n130" class="leaf"><rect x="1795.7" y="700" width="54" height="36"/><text x="1822.7" y="722.5">0 (9.0)</text></g>
<g id="n131" class="leaf"><rect x="1974.7" y="700" width="60.3" height="36"/><text x="2004.8" y="722.5">1 (14.0)</text></g>
<g id="n132" class="leaf"><rect x="2052.9" y="700" width="81.7" height="36"/><text x="2093.7" y="722.5">0 (13.0/4.0)</text></g>
<g id="n133" class="leaf"><rect x="2183.1" y="700" width="81.7" height="36"/><text x="2223.9" y="722.5">1 (18.0/2.0)</text></g>
<g id="n134" class="leaf"><rect x="2282.2" y="700" width="81.7" height="36"/><text x="2323" y="722.5">0 (10.0/3.0)</text></g>
<g id="n135" class="leaf"><rect x="2393.8" y="700" width="54" height="36"/><text x="2420.8" y="722.5">1 (8.0)</text></g>
<g id="n136" class="node"><ellipse cx="2506.8" cy="718" rx="27" ry="18"/><text x="2506.8" y="722.5">A20</text></g>
<g id="n137" class="leaf"><rect x="2779.1" y="700" width="81.7" height="36"/><text x="2819.9" y="722.5">1 (17.0/1.0)</text></g>
<g id="n138" class="leaf"><rect x="2878.3" y="700" width="88.7" height="36"/><text x="2922.6" y="722.5">0 (37.0/11.0)</text></g>
<g id="n139" class="node"><ellipse cx="3400.7" cy="718" rx="27" ry="18"/><text x="3400.7" y="722.5">A3</text></g>
<g id="n140" class="leaf"><rect x="3451.8" y="700" width="60.3" height="36"/><text x="3481.9" y="722.5">0 (42.0)</text></g>
<g id="n141" class="leaf"><rect x="66.7" y="787" width="81.7" height="36"/><text x="107.5" y="809.5">1 (82.0/1.0)</text></g>
<g id="n142" class="node"><ellipse cx="193.3" cy="805" rx="27" ry="18"/><text x="193.3" y="809.5">A13</text></g>
<g id="n143" class="leaf"><rect x="1167.1" y="787" width="74.7" height="36"/><text x="1204.4" y="809.5">1 (8.0/2.0)</text></g>
<g id="n144" class="leaf"><rect x="1259.1" y="787" width="74.7" height="36"/><text x="1296.4" y="809.5">0 (8.0/1.0)</text></g>
<g id="n145" class="leaf"><rect x="1523.6" y="787" width="60.3" height="36"/><text x="1553.7" y="809.5">1 (10.0)</text></g>
<g id="n146" class="node"><ellipse cx="1639.3" cy="805" rx="27" ry="18"/><text x="1639.3" y="809.5">A12</text></g>
<g id="n147" class="node"><ellipse cx="2465.4" cy="805" rx="27" ry="18"/><text x="2465.4" y="809.5">A7</text></g>
<g id="n148" class="leaf"><rect x="2516.7" y="787" width="60.3" height="36"/><text x="2546.8" y="809.5">0 (18.0)</text></g>
<g id="n149" class="node"><ellipse cx="3359.8" cy="805" rx="27" ry="18"/><text x="3359.8" y="809.5">A8</text></g>
<g id="n150" class="leaf"><rect x="3410.9" y="787" width="60.3" height="36"/><text x="3441" y="809.5">0 (17.0)</text></g>
<g id="n151" class="node"><ellipse cx="153.1" cy="892" rx="27" ry="18"/><text x="153.1" y="896.5">A15</text></g>
<g id="n152" class="leaf"><rect x="207.4" y="874" width="54" height="36"/><text x="234.4" y="896.5">0 (9.0)</text></g>
<g id="n153" class="leaf"><rect x="1555.1" y="874" width="81.7" height="36"/><text x="1595.9" y="896.5">1 (18.0/7.0)</text></g>
<g id="n154" class="leaf"><rect x="1654.6" y="874" width="60.3" height="36"/><text x="1684.7" y="896.5">0 (13.0)</text></g>
<g id="n155" class="leaf"><rect x="2395.8" y="874" width="54" height="36"/><text x="2422.8" y="896.5">1 (8.0)</text></g>
<g id="n156" class="leaf"><rect x="2467.9" y="874" width="81.7" height="36"/><text x="2508.7" y="896.5">0 (10.0/1.0)</text></g>
<g id="n157" class="node"><ellipse cx="3318.5" cy="892" rx="27" ry="18"/><text x="3318.5" y="896.5">A5</text></g>
<g id="n158" class="leaf"><rect x="3373" y="874" width="54" height="36"/><text x="3400" y="896.5">0 (9.0)</text></g>
<g id="n159" class="node"><ellipse cx="112.1" cy="979" rx="27" ry="18"/><text x="112.1" y="983.5">A7</text></g>
<g id="n160" class="leaf"><rect x="156.9" y="961" width="74.7" height="36"/><text x="194.2" y="983.5">0 (8.0/1.0)</text></g>
<g id="n161" class="leaf"><rect x="3228.1" y="961" width="81.7" height="36"/><text x="3268.9" y="983.5">1 (13.0/1.0)</text></g>
<g id="n162" class="leaf"><rect x="3327.2" y="961" width="81.7" height="36"/><text x="3368" y="983.5">0 (13.0/3.0)</text></g>
<g id="n163" class="leaf"><rect x="23.5" y="1048" width="81.7" height="36"/><text x="64.3" y="1070.5">1 (29.0/2.0)</text></g>
<g id="n164" class="leaf"><rect x="122.9" y="1048" width="74.7" height="36"/><text x="160.2" y="1070.5">0 (8.0/3.0)</text></g>
</g>
</svg>
